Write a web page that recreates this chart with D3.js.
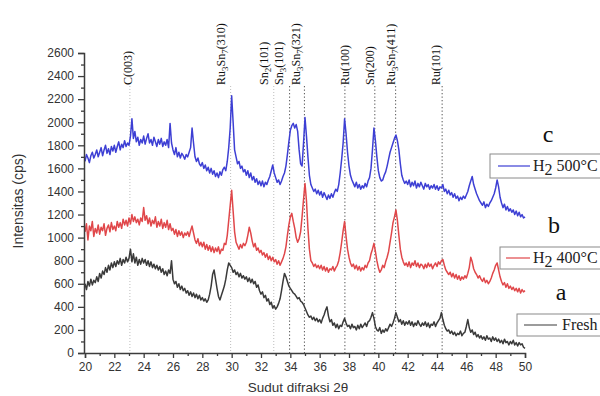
<!DOCTYPE html>
<html>
<head>
<meta charset="utf-8">
<script src="https://cdn.jsdelivr.net/npm/d3@7"></script>
<style>
  html, body { margin: 0; padding: 0; background: #fff; }
  svg { display: block; }
</style>
</head>
<body>
<svg id="chart" width="600" height="396"></svg>
<script>
// Diffraction angle grid (degrees 2θ), 0.1° sampling from 20° to 50°
const angleStart = 20, angleStep = 0.1;

// Intensity (cps) – catalyst reduced in H2 at 500 °C (curve c)
const h2_500 = [
  1660,1720,1690,1650,1710,1740,1690,1720,1760,1700,
  1740,1780,1710,1760,1800,1730,1770,1720,1790,1750,
  1800,1740,1790,1830,1760,1810,1780,1840,1790,1820,
  1800,1880,2030,1860,1920,1830,1870,1800,1850,1820,
  1880,1810,1860,1900,1820,1850,1800,1870,1830,1790,
  1850,1810,1860,1790,1830,1800,1850,1780,1990,1820,
  1760,1720,1780,1700,1740,1690,1730,1710,1680,1720,
  1700,1740,1780,1950,1820,1700,1660,1690,1640,1620,
  1650,1600,1630,1580,1610,1560,1600,1550,1580,1530,
  1560,1520,1570,1540,1590,1610,1580,1660,1780,1950,
  2230,2000,1760,1700,1640,1660,1600,1620,1570,1590,
  1540,1580,1520,1560,1500,1530,1480,1510,1460,1490,
  1450,1490,1440,1480,1460,1500,1530,1580,1630,1560,
  1520,1480,1500,1460,1490,1530,1560,1620,1720,1830,
  1930,1970,1990,1950,1980,1920,1760,1640,1620,1820,
  2040,1880,1700,1540,1460,1430,1400,1420,1380,1410,
  1370,1400,1350,1390,1360,1330,1370,1340,1380,1350,
  1390,1420,1400,1460,1560,1680,1820,2030,1900,1740,
  1620,1540,1500,1470,1440,1480,1430,1460,1420,1450,
  1430,1470,1440,1490,1520,1600,1760,1950,1840,1700,
  1580,1520,1490,1500,1540,1570,1620,1680,1740,1780,
  1820,1860,1890,1840,1760,1640,1540,1500,1470,1490,
  1460,1500,1440,1480,1450,1490,1430,1470,1440,1480,
  1450,1420,1470,1440,1460,1420,1450,1430,1460,1420,
  1450,1410,1440,1430,1460,1400,1420,1380,1410,1370,
  1390,1350,1380,1340,1360,1320,1350,1330,1360,1340,
  1370,1400,1450,1490,1530,1460,1420,1380,1350,1320,
  1300,1280,1310,1260,1290,1270,1300,1320,1350,1380,
  1430,1500,1440,1350,1300,1260,1290,1240,1270,1230,
  1250,1220,1240,1200,1230,1190,1220,1180,1200,1170,
  1180
];

// Intensity (cps) – catalyst reduced in H2 at 400 °C (curve b)
const h2_400 = [
  1050,1120,980,1100,1060,1140,1010,1080,1040,1110,
  1030,1090,1060,1120,1020,1080,1110,1050,1130,1070,
  1100,1060,1140,1090,1130,1080,1160,1110,1150,1100,
  1170,1120,1200,1140,1180,1130,1160,1110,1170,1140,
  1260,1150,1190,1120,1170,1100,1150,1120,1180,1090,
  1140,1100,1160,1080,1130,1090,1150,1070,1120,1060,
  1080,1030,1070,1010,1060,1020,1050,1000,1040,1020,
  1050,1010,1060,1100,1040,980,950,990,930,960,
  920,960,900,940,890,930,880,920,870,910,
  880,920,860,900,890,950,940,1020,1150,1280,
  1410,1230,1050,960,930,900,940,910,950,930,
  960,1020,1090,1040,970,920,950,890,910,870,
  890,850,870,830,860,810,840,800,830,790,
  810,770,800,760,790,820,860,920,1020,1110,
  1180,1210,1140,1080,1000,960,990,1050,1180,1330,
  1470,1320,1080,900,800,780,750,770,740,760,
  730,760,720,750,710,740,700,730,720,750,
  710,740,760,800,870,960,1060,1140,1010,900,
  830,780,750,770,730,760,720,750,710,740,
  720,760,740,780,800,860,900,950,880,800,
  740,700,720,760,740,790,830,880,960,1040,
  1130,1180,1240,1150,1020,900,830,790,760,780,
  750,790,740,780,760,800,750,780,740,770,
  760,730,770,740,780,750,770,730,760,780,
  750,790,770,800,810,760,720,700,680,700,
  660,690,650,680,640,670,630,660,640,670,
  650,690,740,830,790,730,700,680,650,670,
  640,620,650,610,630,600,620,650,690,720,
  760,780,720,660,620,590,610,570,600,560,
  580,550,570,540,560,530,560,520,550,530,
  540
];

// Intensity (cps) – fresh catalyst (curve a)
const fresh = [
  600,550,620,580,640,590,630,610,660,620,
  690,650,710,680,740,700,760,720,780,740,
  790,750,800,770,820,760,810,780,830,790,
  820,900,790,860,780,830,760,810,770,820,
  780,810,760,800,750,790,740,770,730,760,
  720,750,700,730,680,710,670,720,690,800,
  640,600,620,570,600,550,580,540,560,520,
  540,500,530,490,520,480,510,470,500,460,
  480,450,470,440,460,510,580,680,720,640,
  560,490,460,500,540,580,640,720,780,760,
  740,700,720,680,700,660,690,650,670,640,
  660,620,650,610,640,600,620,570,590,540,
  510,530,480,500,450,470,420,440,390,410,
  380,400,430,470,540,620,690,660,620,580,
  560,540,520,510,490,470,480,450,440,420,
  390,360,330,310,320,290,310,280,300,270,
  290,260,300,330,370,400,320,270,290,240,
  260,220,250,210,240,230,270,300,260,230,
  240,210,250,220,230,200,240,210,250,220,
  240,260,230,270,280,310,350,300,230,200,
  190,220,170,200,180,210,190,220,250,230,
  260,300,350,310,270,290,250,280,240,270,
  250,280,240,270,230,260,240,280,250,230,
  260,240,270,230,260,220,250,240,270,230,
  260,280,300,350,290,240,210,190,200,170,
  190,160,180,150,170,160,190,150,170,180,
  230,290,220,180,200,160,180,140,160,130,
  150,120,140,110,150,120,130,100,140,110,
  130,100,120,90,110,80,120,90,100,70,
  100,80,110,70,90,60,90,70,80,50,
  40
];

// Phase reference lines: peak position (2θ) and where each rotated label sits
const phaseLabels = ["C(003)", "Ru3Sn7(310)", "Sn2(101)", "Sn3(101)", "Ru3Sn7(321)",
                     "Ru(100)", "Sn(200)", "Ru3Sn7(411)", "Ru(101)"];
const phaseLineAt = [23.06, 29.93, 32.87, null, 33.95, 37.72, 39.76, 41.18, 44.35];
const extraLineAt = [34.96];
const phaseLabelAt = [22.95, 29.3, 32.2, 33.25, 34.4, 37.75, 39.45, 40.85, 43.95];

// Axis ticks
const yTicksMajor = d3.range(0, 2601, 200);
const yTicksMinor = d3.range(100, 2600, 200);
const xTicksMajor = d3.range(20, 51, 2);
const xTicksMinor = d3.range(21, 50, 2);

const svg = d3.select("#chart");
const x = d3.scaleLinear().domain([20, 50]).range([85, 525]);
const y = d3.scaleLinear().domain([0, 2600]).range([353, 53]);

const axisColor = "#3c3c3c";
const tickFont = "Liberation Sans, Arial, sans-serif";
const serif = "Liberation Serif, Times New Roman, serif";

// Phase reference lines (behind the patterns)
const refLines = svg.append("g");
const lightLines = new Set([0, 1, 2]);
phaseLineAt.forEach((v, i) => {
  if (v === null) return;
  const light = lightLines.has(i);
  refLines.append("line")
    .attr("x1", x(v)).attr("x2", x(v))
    .attr("y1", 86).attr("y2", y(0))
    .attr("stroke", light ? "#bdbdbd" : "#555")
    .attr("stroke-width", 1)
    .attr("stroke-dasharray", light ? "1,2" : "1.3,2.2");
});
extraLineAt.forEach(v => {
  refLines.append("line")
    .attr("x1", x(v)).attr("x2", x(v))
    .attr("y1", 86).attr("y2", y(0))
    .attr("stroke", "#555").attr("stroke-width", 1)
    .attr("stroke-dasharray", "1.3,2.2");
});

// Rotated phase labels; digits after element symbols are drawn as subscripts
const labelG = svg.append("g")
  .attr("font-family", serif)
  .attr("font-size", 12).attr("fill", "#111");
phaseLabels.forEach((lab, i) => {
  const px = x(phaseLabelAt[i]) + 4;
  const t = labelG.append("text")
    .attr("transform", `translate(${px},85) rotate(-90)`);
  const parts = lab.match(/\([^)]*\)|[A-Za-z]+|\d+/g);
  let sub = false;
  parts.forEach(p => {
    const isSub = /^\d+$/.test(p);
    const ts = t.append("tspan").text(p);
    if (isSub) {
      ts.attr("font-size", 9);
      if (!sub) { ts.attr("dy", 3); sub = true; }
    } else if (sub) {
      ts.attr("dy", -3); sub = false;
    }
  });
});

// Diffraction patterns
const line = d3.line()
  .x((d, i) => x(angleStart + i * angleStep))
  .y(d => y(d));

const series = [
  { values: fresh,  color: "#3a3a3a" },
  { values: h2_400, color: "#e0474a" },
  { values: h2_500, color: "#3d3fd4" }
];
series.forEach(s => {
  svg.append("path")
    .datum(s.values)
    .attr("d", line)
    .attr("fill", "none")
    .attr("stroke", s.color)
    .attr("stroke-width", 1.5)
    .attr("stroke-linejoin", "round");
});

// Y axis
svg.append("g").attr("transform", `translate(${x(20) - 1},0)`)
  .call(d3.axisLeft(y).tickValues(yTicksMajor).tickSize(6).tickPadding(4).tickFormat(d3.format("d")));
svg.append("g").attr("transform", `translate(${x(20) - 1},0)`)
  .call(d3.axisLeft(y).tickValues(yTicksMinor).tickSize(3).tickFormat(""))
  .select(".domain").remove();

// X axis
svg.append("g").attr("transform", `translate(0,${y(0)})`)
  .call(d3.axisBottom(x).tickValues(xTicksMajor).tickSize(5).tickPadding(4).tickFormat(d3.format("d")));
svg.append("g").attr("transform", `translate(0,${y(0)})`)
  .call(d3.axisBottom(x).tickValues(xTicksMinor).tickSize(3).tickFormat(""))
  .select(".domain").remove();

svg.selectAll(".domain").attr("stroke", axisColor).attr("stroke-width", 1.5);
svg.selectAll(".tick line").attr("stroke", axisColor).attr("stroke-width", 1.3);
svg.selectAll(".tick text")
  .attr("font-family", tickFont).attr("font-size", 12).attr("fill", "#333");

// Axis titles
svg.append("text")
  .attr("transform", "translate(23,201) rotate(-90)")
  .attr("text-anchor", "middle")
  .attr("font-family", tickFont).attr("font-size", 14).attr("fill", "#333")
  .text("Intensitas (cps)");
svg.append("text")
  .attr("x", 298).attr("y", 392)
  .attr("text-anchor", "middle")
  .attr("font-family", tickFont).attr("font-size", 13.5).attr("fill", "#333")
  .text("Sudut difraksi 2θ");

// Legend boxes and curve letters
const legends = [
  { box: [490, 154, 130, 24], line: [498, 530], ly: 166, tx: 533, name: ["H", "2", " 500°C"], color: "#3d3fd4" },
  { box: [500, 247, 120, 22], line: [506, 530], ly: 258, tx: 533, name: ["H", "2", " 400°C"], color: "#e0474a" },
  { box: [517, 314, 100, 22], line: [524, 557], ly: 325, tx: 562, name: ["Fresh"], color: "#3a3a3a" }
];
legends.forEach(l => {
  svg.append("rect")
    .attr("x", l.box[0]).attr("y", l.box[1])
    .attr("width", l.box[2]).attr("height", l.box[3])
    .attr("fill", "#fff").attr("stroke", "#8a8a8a").attr("stroke-width", 1);
  svg.append("line")
    .attr("x1", l.line[0]).attr("x2", l.line[1])
    .attr("y1", l.ly).attr("y2", l.ly)
    .attr("stroke", l.color).attr("stroke-width", 1.2);
  const t = svg.append("text")
    .attr("x", l.tx).attr("y", l.ly + 5)
    .attr("font-family", serif).attr("font-size", 16).attr("fill", "#222");
  if (l.name.length === 1) {
    t.text(l.name[0]);
  } else {
    t.append("tspan").text(l.name[0]);
    t.append("tspan").attr("dy", 4).text(l.name[1]);
    t.append("tspan").attr("dy", -4).text(l.name[2]);
  }
});

const letters = [["c", 548, 142], ["b", 554, 233], ["a", 561, 300]];
letters.forEach(([s, lx, ly]) => {
  svg.append("text")
    .attr("x", lx).attr("y", ly).attr("text-anchor", "middle")
    .attr("font-family", serif).attr("font-size", 24).attr("fill", "#111")
    .text(s);
});
</script>
</body>
</html>
